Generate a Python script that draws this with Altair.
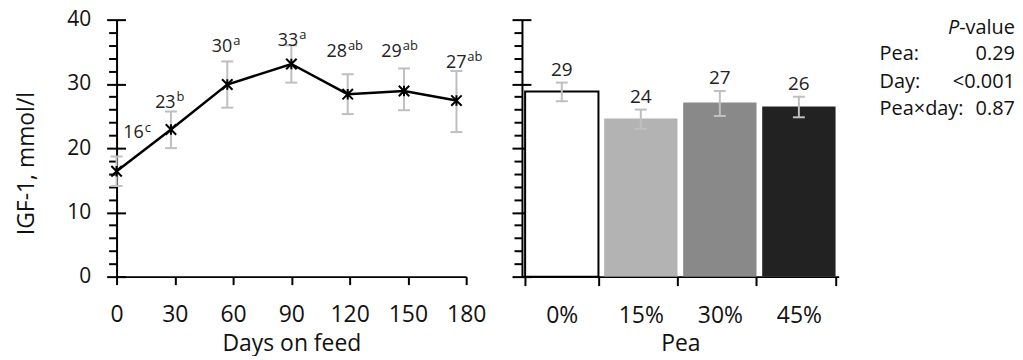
import altair as alt
import pandas as pd

# ---- left panel data (days on feed) ----
days = [0, 28, 57, 90, 119, 148, 175]
igf_mean = [16.4, 22.9, 29.9, 33.1, 28.4, 28.9, 27.4]
igf_lo = [14.1, 20.0, 26.3, 30.2, 25.3, 25.9, 22.5]
igf_hi = [18.7, 25.7, 33.5, 36.0, 31.5, 32.4, 32.0]
day_labels = ["16", "23", "30", "33", "28", "29", "27"]
day_sup = ["c", "b", "a", "a", "ab", "ab", "ab"]
label_day = [14, 30.4, 59.6, 93.5, 118.6, 146.8, 180.1]
label_y = [21.5, 26.3, 35.0, 35.9, 34.2, 34.2, 32.5]

# ---- right panel data (pea inclusion) ----
pea = ["0%", "15%", "30%", "45%"]
pea_mean = [28.8, 24.6, 27.1, 26.5]
pea_lo = [27.3, 23.0, 25.0, 24.8]
pea_hi = [30.2, 26.0, 28.9, 28.0]
pea_labels = ["29", "24", "27", "26"]
pea_colors = ["#ffffff", "#b3b3b3", "#898989", "#222222"]

# ---- P-values ----
p_terms = ["Pea:", "Day:", "Pea×day:"]
p_values = ["0.29", "<0.001", "0.87"]

FONT = "Open Sans"
ERR = "#bfbfbf"
W1, W2, H = 351, 318, 258

df_day = pd.DataFrame({"day": days, "mean": igf_mean, "lo": igf_lo, "hi": igf_hi,
                       "lab": day_labels, "sup": day_sup, "lx": label_day, "ly": label_y})
df_pea = pd.DataFrame({"pea": pea, "mean": pea_mean, "lo": pea_lo, "hi": pea_hi, "lab": pea_labels})
df_p = pd.DataFrame({"term": p_terms, "val": p_values, "row": [0, 1, 2]})

yscale = alt.Scale(domain=[0, 40], nice=False, zero=True)
major_vals = [0, 10, 20, 30, 40]
minor_vals = [2, 4, 6, 8, 12, 14, 16, 18, 22, 24, 26, 28, 32, 34, 36, 38]


def major_axis(labels=True, title=None):
    kw = dict(values=major_vals, tickSize=19, offset=-9, domain=False, grid=False, ticks=True,
              tickWidth=2, tickColor="#000000", orient="left", labels=labels)
    if labels:
        kw.update(labelPadding=16, labelFontSize=21, labelBaseline="middle")
    if title:
        kw.update(title=title, titleFontSize=23, titleFontWeight="normal", titleX=-87,
                  titleY=144, titleAngle=-90, titleBaseline="bottom", titleAlign="center")
    else:
        kw.update(title=None)
    return alt.Axis(**kw)


minor_axis = alt.Axis(values=minor_vals, tickSize=8, tickWidth=2, domain=True, domainWidth=2,
                      domainColor="#000000", tickColor="#000000", labels=False, title=None,
                      grid=False, orient="left", ticks=True)

xaxis_day = alt.Axis(values=[0, 30, 60, 90, 120, 150, 180], tickSize=8, tickWidth=2,
                     tickColor="#000000", domainWidth=2, labelFontSize=23, labelPadding=19.5,
                     labelFlush=False, labelBaseline="top", title="Days on feed",
                     titleFontSize=23, titleFontWeight="normal", titleBaseline="alphabetic",
                     titleY=74, grid=False, labelOverlap=False)
xscale_day = alt.Scale(domain=[0, 180], nice=False)


def xd(field):
    return alt.X(f"{field}:Q", scale=xscale_day, axis=xaxis_day)


base1 = alt.Chart(df_day)
err_rule = base1.mark_rule(color=ERR, strokeWidth=2).encode(
    x=xd("day"), y=alt.Y("lo:Q", scale=yscale, axis=minor_axis), y2="hi:Q")
cap_lo = base1.mark_tick(orient="horizontal", size=12, thickness=2, color=ERR, opacity=1).encode(
    x=xd("day"), y=alt.Y("lo:Q", scale=yscale, axis=None))
cap_hi = base1.mark_tick(orient="horizontal", size=12, thickness=2, color=ERR, opacity=1).encode(
    x=xd("day"), y=alt.Y("hi:Q", scale=yscale, axis=None))
line = base1.mark_line(color="black", strokeWidth=2.5).encode(
    x=xd("day"), y=alt.Y("mean:Q", scale=yscale, axis=major_axis(True, "IGF-1, mmol/l")))
pts = base1.mark_point(shape="M-1,-1L1,1M-1,1L1,-1M0,-1L0,1", size=110, filled=False,
                       stroke="black", strokeWidth=2, opacity=1).encode(
    x=xd("day"), y=alt.Y("mean:Q", scale=yscale, axis=None))
num_txt = base1.mark_text(align="right", baseline="alphabetic", fontSize=18, font=FONT,
                          color="#222").encode(
    x=xd("lx"), y=alt.Y("ly:Q", scale=yscale, axis=None), text="lab:N")
sup_txt = base1.mark_text(align="left", baseline="alphabetic", fontSize=13, font=FONT,
                          color="#222", dx=1, dy=-7).encode(
    x=xd("lx"), y=alt.Y("ly:Q", scale=yscale, axis=None), text="sup:N")

left = alt.layer(err_rule, cap_lo, cap_hi, line, pts, num_txt, sup_txt).resolve_axis(
    y="independent").resolve_scale(y="shared").properties(width=W1, height=H)

# ---- right panel ----
xscale_pea = alt.Scale(domain=pea, paddingInner=0.072, paddingOuter=0.04)
xaxis_pea = alt.Axis(tickBand="extent", tickSize=9, tickWidth=2, tickColor="#000000",
                     domainWidth=2, labelFontSize=23, labelPadding=19.5, labelBaseline="top",
                     labelAngle=0, title="Pea", titleFontSize=23, titleFontWeight="normal",
                     titleBaseline="alphabetic", titleY=74, grid=False)


def xp():
    return alt.X("pea:N", scale=xscale_pea, axis=xaxis_pea, sort=pea)


base2 = alt.Chart(df_pea)
bars = base2.mark_bar(strokeWidth=2).encode(
    x=xp(), y=alt.Y("mean:Q", scale=yscale, axis=minor_axis),
    fill=alt.Fill("pea:N", scale=alt.Scale(domain=pea, range=pea_colors), legend=None),
    stroke=alt.condition(alt.datum.pea == "0%", alt.value("black"), alt.value("transparent")))
err2 = base2.mark_rule(color=ERR, strokeWidth=2).encode(
    x=xp(), y=alt.Y("lo:Q", scale=yscale, axis=major_axis(False)), y2="hi:Q")
cap2_lo = base2.mark_tick(orient="horizontal", size=12, thickness=2, color=ERR, opacity=1).encode(
    x=xp(), y=alt.Y("lo:Q", scale=yscale, axis=None))
cap2_hi = base2.mark_tick(orient="horizontal", size=12, thickness=2, color=ERR, opacity=1).encode(
    x=xp(), y=alt.Y("hi:Q", scale=yscale, axis=None))
bar_txt = base2.mark_text(baseline="alphabetic", fontSize=19, font=FONT, color="#222", dy=-7).encode(
    x=xp(), y=alt.Y("hi:Q", scale=yscale, axis=None), text="lab:N")

rowscale = alt.Scale(domain=[0, 2], range=[41, 96], nice=False, zero=False)
ptxt = alt.Chart(df_p)
p_head_v = alt.Chart(pd.DataFrame({"t": ["-value"]})).mark_text(
    align="right", baseline="alphabetic", fontSize=20, font=FONT, color="#111").encode(
    x=alt.value(495), y=alt.value(14), text="t:N")
p_head_p = alt.Chart(pd.DataFrame({"t": ["P"]})).mark_text(
    align="right", baseline="alphabetic", fontSize=20, font=FONT, fontStyle="italic",
    color="#111").encode(x=alt.value(439), y=alt.value(14), text="t:N")
p_terms_txt = ptxt.mark_text(align="left", baseline="alphabetic", fontSize=20, font=FONT,
                             color="#111").encode(
    x=alt.value(359), y=alt.Y("row:Q", scale=rowscale, axis=None), text="term:N")
p_vals_txt = ptxt.mark_text(align="right", baseline="alphabetic", fontSize=20, font=FONT,
                            color="#111").encode(
    x=alt.value(495), y=alt.Y("row:Q", scale=rowscale, axis=None), text="val:N")

right = alt.layer(bars, err2, cap2_lo, cap2_hi, bar_txt).resolve_axis(
    y="independent").resolve_scale(y="shared")
ptable = alt.layer(p_head_v, p_head_p, p_terms_txt, p_vals_txt)
right_all = alt.layer(right, ptable).resolve_scale(y="independent").resolve_axis(
    y="independent").properties(width=W2, height=H)

chart = alt.hconcat(left, right_all, spacing=25).properties(
    padding={"left": 7, "top": 0, "right": 0, "bottom": 0}
).configure(font=FONT).configure_view(stroke=None).configure_axis(
    domainColor="#000000", labelColor="#111", titleColor="#111",
    labelFont=FONT, titleFont=FONT)

chart.save("out.html", embed_options={"renderer": "svg", "actions": False})
